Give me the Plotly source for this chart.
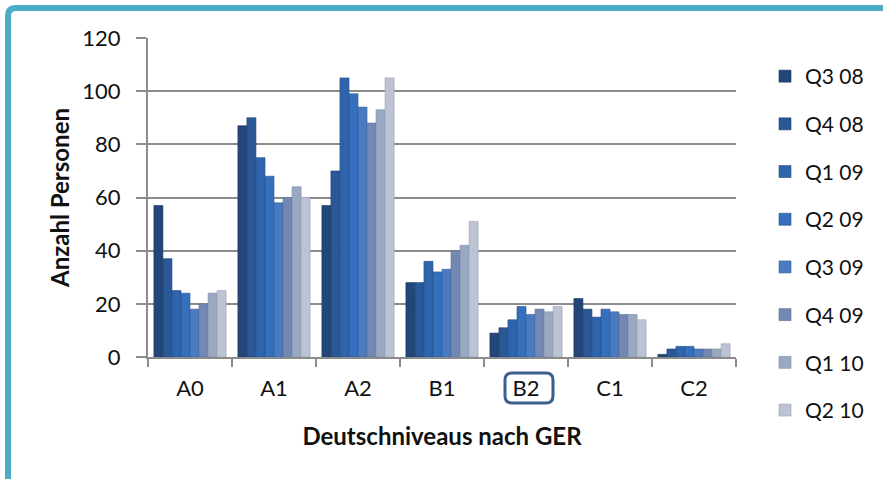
import plotly.graph_objects as go

levels = ['A0', 'A1', 'A2', 'B1', 'B2', 'C1', 'C2']
quarters = ['Q3 08', 'Q4 08', 'Q1 09', 'Q2 09', 'Q3 09', 'Q4 09', 'Q1 10', 'Q2 10']

q3_08 = [57, 87, 57, 28, 9, 22, 1]
q4_08 = [37, 90, 70, 28, 11, 18, 3]
q1_09 = [25, 75, 105, 36, 14, 15, 4]
q2_09 = [24, 68, 99, 32, 19, 18, 4]
q3_09 = [18, 58, 94, 33, 16, 17, 3]
q4_09 = [20, 60, 88, 40, 18, 16, 3]
q1_10 = [24, 64, 93, 42, 17, 16, 3]
q2_10 = [25, 60, 105, 51, 19, 14, 5]

series = [q3_08, q4_08, q1_09, q2_09, q3_09, q4_09, q1_10, q2_10]
colors = ['#224678', '#2a5897', '#2e64ad', '#3470bd', '#4a7bc0',
          '#7389b3', '#9aa8c3', '#bcc4d4']
edges = ['#1a355c', '#1f416f', '#234b82', '#28558f', '#3a6098',
         '#5a6d8e', '#7d8aa2', '#9aa3b3']

W, H = 883, 479
ML, MR, MT, MB = 148, 147, 38, 122
PW, PH = W - ML - MR, H - MT - MB


def px(x):
    return (x - ML) / PW


def py(y):
    return (H - MB - y) / PH


fig = go.Figure()
for name, vals, col, edge in zip(quarters, series, colors, edges):
    fig.add_trace(go.Bar(x=levels, y=vals, name=name, legendgroup=name,
                         marker=dict(color=col, line=dict(color=edge, width=0.6))))

# teal frame (top + left, rounded corner)
frame = (f'M {px(8)},{py(500)} L {px(8)},{py(16)} '
         f'Q {px(8)},{py(8)} {px(16)},{py(8)} L {px(900)},{py(8)}')
# rounded box around B2 label
x0, x1, y0, y1, r = 505, 553, 373, 403, 7
box = (f'M {px(x0 + r)},{py(y0)} L {px(x1 - r)},{py(y0)} Q {px(x1)},{py(y0)} {px(x1)},{py(y0 + r)} '
       f'L {px(x1)},{py(y1 - r)} Q {px(x1)},{py(y1)} {px(x1 - r)},{py(y1)} '
       f'L {px(x0 + r)},{py(y1)} Q {px(x0)},{py(y1)} {px(x0)},{py(y1 - r)} '
       f'L {px(x0)},{py(y0 + r)} Q {px(x0)},{py(y0)} {px(x0 + r)},{py(y0)} Z')

fig.update_layout(
    width=W, height=H,
    margin=dict(l=ML, r=MR, t=MT, b=MB, autoexpand=False),
    barmode='group', bargap=0.14, bargroupgap=0,
    paper_bgcolor='white', plot_bgcolor='white',
    font=dict(family='Lato, Carlito, sans-serif', size=22, color='#111'),
    legend=dict(x=px(765), y=py(56), xanchor='left', yanchor='top',
                tracegroupgap=17.4, font=dict(size=21),
                itemwidth=30, maxheight=460),
    shapes=[
        dict(type='path', path=frame, xref='paper', yref='paper',
             line=dict(color='#4bacc6', width=6)),
        dict(type='path', path=box, xref='paper', yref='paper',
             line=dict(color='#3b5f8d', width=3)),
    ],
)
fig.update_xaxes(
    automargin=False,
    showline=True, linecolor='#8c8c8c', linewidth=2,
    ticks='outside', tickson='boundaries', ticklen=8, tickcolor='#8c8c8c', tickwidth=1.5,
    ticklabelstandoff=11,
    title=dict(text='<b>Deutschniveaus nach GER</b>', standoff=28, font=dict(size=24)),
)
fig.update_yaxes(
    automargin=False,
    range=[0, 120], dtick=20,
    showline=True, linecolor='#8c8c8c', linewidth=2,
    showgrid=True, gridcolor='#8c8c8c', gridwidth=1.5,
    ticks='outside', ticklen=10, tickcolor='#8c8c8c', tickwidth=1.5,
    ticklabelstandoff=11,
    title=dict(text='<b>Anzahl Personen</b>', standoff=6, font=dict(size=24)),
    zeroline=False,
)

fig.write_html('out.html', config={'displayModeBar': False},
               post_script="document.body.style.margin='0';document.body.style.overflow='hidden';")
